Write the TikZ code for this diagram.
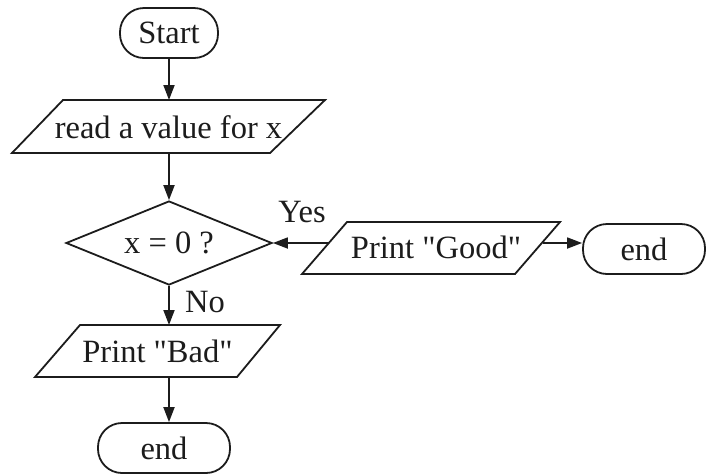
\documentclass[tikz,border=0pt]{standalone}
\usepackage{fontspec}
\setmainfont{Liberation Serif}
\usetikzlibrary{shapes.geometric,arrows.meta}
\definecolor{ink}{HTML}{1C1C1C}
\newcommand\sq{\XeTeXglyph\XeTeXcharglyph"22\relax}
\begin{document}
\begin{tikzpicture}[x=1pt,y=-1pt,
  line width=1.8pt,
  every node/.style={font=\fontsize{32.5}{38}\selectfont, text=ink},
  term/.style={draw=ink, rectangle, rounded corners=24pt, minimum height=50pt, inner sep=0pt},
  iobox/.style={draw=ink, line join=miter},
  decision/.style={draw=ink, diamond, aspect=2.45, inner sep=0pt, minimum width=206pt, minimum height=84pt},
  arr/.style={draw=ink, -{Triangle[length=15pt,width=11pt]}}
]
\useasboundingbox (0,0) rectangle (707,475);
% terminals and decision
\node[term, minimum width=98pt] (start) at (169,33) {Start};
\node[decision] (dec) at (169,243) {x = 0 ?};
\node[term, minimum width=122pt] (endr) at (644,249) {end};
\node[term, minimum width=132pt] (endb) at (164,448) {end};
% input/output parallelograms
\draw[iobox] (63,100) -- (325,100) -- (270,153) -- (12,153) -- cycle;
\node (read) at (168.5,127) {read a value for x};
\coordinate (readN) at (169,100);
\coordinate (readS) at (169,153);
\draw[iobox] (347,222) -- (560,222) -- (515,274) -- (302,274) -- cycle;
\node (good) at (436,247) {Print \sq Good\sq};
\coordinate (goodW) at (329,243);
\coordinate (goodE) at (543,243);
\draw[iobox] (80,325) -- (280,325) -- (237,377) -- (35,377) -- cycle;
\node (bad) at (157.5,351) {Print \sq Bad\sq};
\coordinate (badN) at (169,325);
\coordinate (badS) at (169,377);
% labels
\node (yes) at (302,212) {Yes};
\node (no) at (205,302) {No};
% connectors
\draw[arr] (start.south) -- (readN);
\draw[arr] (readS) -- (dec.north);
\draw[arr] (goodW) -- (dec.east);
\draw[arr] (goodE) -- (goodE -| endr.west);
\draw[arr] (dec.south) -- (badN);
\draw[arr] (badS) -- (badS |- endb.north);
\end{tikzpicture}
\end{document}
